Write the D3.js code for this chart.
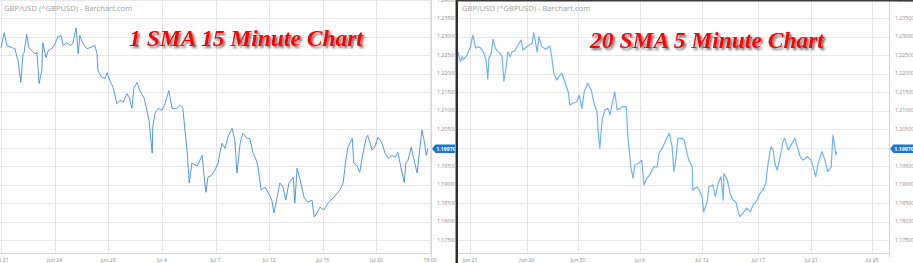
<!DOCTYPE html>
<html>
<head>
<meta charset="utf-8">
<script src="https://cdn.jsdelivr.net/npm/d3@7"></script>
<style>
  html, body { margin: 0; padding: 0; background: #fff; }
  svg { display: block; }
</style>
</head>
<body>
<svg id="chart"></svg>
<script>
// price levels on the y axis
var priceTicks = d3.range(1.175, 1.2401, 0.005);
var lastPrice = 1.19970;

// left panel: 15 minute bars, x in tick steps
var leftTickLabels = ["Jun 21", "Jun 24", "Jun 29", "Jul 4", "Jul 7", "Jul 12", "Jul 15", "Jul 20", "19:00"];
var leftTickPos = [0, 1, 2, 3, 4, 5, 6, 7, 8];
var leftSeries = [
  [0.00,1.2270],[0.06,1.2311],[0.11,1.2276],[0.21,1.2270],[0.26,1.2268],[0.30,1.2243],[0.32,1.2235],[0.37,1.2176],
  [0.41,1.2254],[0.43,1.2257],[0.48,1.2306],[0.52,1.2270],[0.58,1.2262],[0.63,1.2254],[0.67,1.2257],[0.71,1.2173],
  [0.76,1.2208],[0.78,1.2284],[0.84,1.2243],[0.88,1.2262],[0.95,1.2268],[1.01,1.2281],[1.06,1.2300],[1.12,1.2303],
  [1.16,1.2276],[1.23,1.2284],[1.29,1.2276],[1.34,1.2281],[1.40,1.2324],[1.44,1.2254],[1.47,1.2303],[1.53,1.2281],
  [1.60,1.2268],[1.66,1.2270],[1.75,1.2276],[1.79,1.2254],[1.81,1.2208],[1.88,1.2190],[1.94,1.2187],[1.98,1.2203],
  [2.03,1.2181],[2.09,1.2163],[2.16,1.2119],[2.22,1.2128],[2.28,1.2123],[2.35,1.2146],[2.39,1.2136],[2.44,1.2106],
  [2.48,1.2163],[2.54,1.2176],[2.59,1.2154],[2.67,1.2133],[2.72,1.2101],[2.76,1.2074],[2.82,1.1985],[2.83,1.2055],
  [2.87,1.2092],[2.93,1.2106],[3.00,1.2101],[3.06,1.2119],[3.13,1.2154],[3.19,1.2106],[3.28,1.2106],[3.34,1.2114],
  [3.39,1.2109],[3.43,1.2047],[3.47,1.1993],[3.49,1.1947],[3.51,1.1904],[3.56,1.1958],[3.66,1.1950],[3.71,1.1966],
  [3.75,1.1979],[3.79,1.1920],[3.82,1.1879],[3.86,1.1920],[3.93,1.1925],[3.99,1.1939],[4.05,1.1958],[4.08,1.1985],
  [4.12,1.2012],[4.18,1.1998],[4.23,1.2028],[4.31,1.2052],[4.36,1.2020],[4.40,1.1931],[4.46,1.2012],[4.51,1.2039],
  [4.59,1.2025],[4.64,1.2025],[4.70,1.1985],[4.76,1.1966],[4.79,1.1950],[4.85,1.1885],[4.92,1.1893],[4.98,1.1879],
  [5.05,1.1858],[5.09,1.1823],[5.15,1.1866],[5.20,1.1904],[5.26,1.1893],[5.31,1.1858],[5.37,1.1904],[5.45,1.1920],
  [5.48,1.1850],[5.52,1.1944],[5.58,1.1912],[5.65,1.1866],[5.72,1.1852],[5.80,1.1858],[5.84,1.1812],[5.89,1.1823],
  [5.95,1.1839],[6.02,1.1831],[6.10,1.1850],[6.19,1.1863],[6.27,1.1877],[6.32,1.1885],[6.38,1.1904],[6.43,1.1966],
  [6.47,1.2001],[6.55,1.2025],[6.58,1.1958],[6.64,1.1950],[6.69,1.1933],[6.75,1.1985],[6.81,1.2025],[6.84,1.2033],
  [6.92,1.1993],[6.97,1.2001],[7.03,1.2028],[7.10,1.2014],[7.16,1.1985],[7.22,1.1971],[7.29,1.1979],[7.35,1.1974],
  [7.40,1.1987],[7.48,1.1931],[7.52,1.1906],[7.55,1.1958],[7.59,1.1966],[7.65,1.2001],[7.69,1.1974],[7.76,1.1931],
  [7.80,1.1985],[7.85,1.2047],[7.89,1.2020],[7.93,1.1979],[7.96,1.1998]
];

// right panel: 5 minute bars with 20 period average
var rightTickLabels = ["Jun 21", "Jun 26", "Jun 30", "Jul 6", "Jul 12", "Jul 17", "Jul 21", "Jul 25"];
var rightTickPos = [0, 0.99, 1.88, 2.96, 4.04, 5.02, 5.94, 7.0];
var rightSeries = [
  [-0.21,1.2259],[-0.17,1.2232],[-0.14,1.2246],[-0.12,1.2237],[-0.05,1.2250],[-0.03,1.2259],[0.00,1.2269],[0.05,1.2305],
  [0.10,1.2269],[0.14,1.2273],[0.19,1.2269],[0.23,1.2259],[0.28,1.2237],[0.31,1.2185],[0.33,1.2242],[0.37,1.2255],
  [0.40,1.2293],[0.44,1.2269],[0.49,1.2259],[0.52,1.2255],[0.56,1.2246],[0.59,1.2180],[0.63,1.2219],[0.66,1.2259],
  [0.70,1.2246],[0.73,1.2259],[0.78,1.2262],[0.84,1.2278],[0.89,1.2291],[0.92,1.2264],[0.99,1.2273],[1.04,1.2278],
  [1.08,1.2282],[1.11,1.2311],[1.17,1.2259],[1.20,1.2300],[1.25,1.2273],[1.32,1.2266],[1.39,1.2275],[1.43,1.2237],
  [1.46,1.2201],[1.51,1.2183],[1.57,1.2196],[1.60,1.2201],[1.65,1.2178],[1.71,1.2151],[1.74,1.2115],[1.79,1.2120],
  [1.86,1.2124],[1.90,1.2142],[1.95,1.2106],[1.99,1.2151],[2.05,1.2174],[2.11,1.2156],[2.16,1.2120],[2.21,1.2097],
  [2.23,1.2048],[2.26,1.1998],[2.30,1.2075],[2.35,1.2102],[2.40,1.2106],[2.44,1.2088],[2.47,1.2115],[2.52,1.2151],
  [2.56,1.2102],[2.61,1.2106],[2.66,1.2111],[2.72,1.2111],[2.75,1.2029],[2.80,1.1948],[2.84,1.1917],[2.87,1.1953],
  [2.93,1.1957],[2.99,1.1966],[3.03,1.1899],[3.08,1.1917],[3.13,1.1926],[3.20,1.1948],[3.26,1.1948],[3.29,1.1984],
  [3.36,1.2002],[3.41,1.2020],[3.47,1.2039],[3.52,1.2002],[3.55,1.1935],[3.59,1.1975],[3.62,1.2025],[3.69,1.2025],
  [3.73,1.2020],[3.78,1.1984],[3.81,1.1966],[3.87,1.1948],[3.88,1.1885],[3.95,1.1894],[3.99,1.1885],[4.04,1.1867],
  [4.07,1.1826],[4.13,1.1853],[4.16,1.1894],[4.23,1.1899],[4.27,1.1867],[4.32,1.1903],[4.37,1.1921],[4.41,1.1858],
  [4.42,1.1930],[4.48,1.1912],[4.53,1.1876],[4.58,1.1858],[4.63,1.1853],[4.67,1.1826],[4.70,1.1813],[4.75,1.1822],
  [4.82,1.1836],[4.88,1.1826],[4.93,1.1845],[5.00,1.1858],[5.05,1.1876],[5.10,1.1885],[5.15,1.1903],[5.19,1.1957],
  [5.24,1.2002],[5.28,1.1993],[5.31,1.1957],[5.35,1.1939],[5.40,1.1975],[5.45,1.2016],[5.48,1.2025],[5.54,1.1993],
  [5.61,1.2012],[5.66,1.2025],[5.69,1.2007],[5.75,1.1975],[5.80,1.1966],[5.87,1.1975],[5.94,1.1966],[5.99,1.1939],
  [6.02,1.1921],[6.06,1.1957],[6.13,1.1989],[6.18,1.1966],[6.23,1.1935],[6.29,1.1948],[6.32,1.2034],[6.34,1.2016],
  [6.37,1.1980],[6.39,1.1989]
];

var W = 913, H = 263;
var svg = d3.select("#chart").attr("width", W).attr("height", H);
svg.append("rect").attr("width", W).attr("height", H).attr("fill", "#fff");

var defs = svg.append("defs");
var shadow = defs.append("filter").attr("id", "shadow")
  .attr("x", "-10%").attr("y", "-30%").attr("width", "130%").attr("height", "170%");
shadow.append("feDropShadow")
  .attr("dx", 2).attr("dy", 2).attr("stdDeviation", 1.3)
  .attr("flood-color", "#444").attr("flood-opacity", 0.75);

var y = d3.scaleLinear().domain([1.175, 1.235]).range([240, 18.2]);
var fmt = d3.format(".5f");
var plotBottom = 253;

function drawPanel(cfg) {
  var g = svg.append("g");
  var x = cfg.x;

  // horizontal grid
  g.selectAll(".hg").data(priceTicks).enter().append("line")
    .attr("x1", cfg.left).attr("x2", cfg.right)
    .attr("y1", function(d) { return Math.round(y(d)) + 0.5; })
    .attr("y2", function(d) { return Math.round(y(d)) + 0.5; })
    .attr("stroke", "#e9e9e9").attr("stroke-width", 1);

  // vertical grid
  g.selectAll(".vg").data(cfg.tickPos).enter().append("line")
    .attr("x1", function(d) { return Math.round(x(d)) + 0.5; })
    .attr("x2", function(d) { return Math.round(x(d)) + 0.5; })
    .attr("y1", 0).attr("y2", plotBottom)
    .attr("stroke", "#e6e6e6").attr("stroke-width", 1);

  // frame bottom + right
  g.append("line").attr("x1", cfg.left).attr("x2", cfg.right + 0.5)
    .attr("y1", plotBottom + 0.5).attr("y2", plotBottom + 0.5)
    .attr("stroke", "#d6d6d6");
  g.append("line").attr("x1", cfg.right + 0.5).attr("x2", cfg.right + 0.5)
    .attr("y1", 0).attr("y2", plotBottom + 4)
    .attr("stroke", "#d6d6d6");

  // y labels
  g.selectAll(".yl").data(priceTicks).enter().append("text")
    .attr("x", cfg.right + 6).attr("y", function(d) { return y(d) + 1.8; })
    .attr("font-family", "Open Sans, sans-serif").attr("font-size", 5.2)
    .attr("fill", "#8a8a8a")
    .text(function(d) { return fmt(d); });

  // x labels
  g.selectAll(".xl").data(cfg.tickLabels).enter().append("text")
    .attr("x", function(d, i) { return x(cfg.tickPos[i]); })
    .attr("y", 261.5)
    .attr("text-anchor", "middle")
    .attr("font-family", "Open Sans, sans-serif").attr("font-size", 5.2)
    .attr("fill", "#8a8a8a")
    .text(function(d) { return d; });

  // price line
  var clipId = "clip" + cfg.name;
  defs.append("clipPath").attr("id", clipId).append("rect")
    .attr("x", cfg.left).attr("y", 0)
    .attr("width", cfg.right - cfg.left).attr("height", plotBottom);
  var line = d3.line()
    .x(function(d) { return x(d[0]); })
    .y(function(d) { return y(d[1]); });
  g.append("path").datum(cfg.series)
    .attr("clip-path", "url(#" + clipId + ")")
    .attr("d", line)
    .attr("fill", "none")
    .attr("stroke", cfg.color)
    .attr("stroke-width", cfg.lineWidth)
    .attr("stroke-linejoin", "round");

  // last price tag
  var ty = y(lastPrice), tx = cfg.right + 1;
  g.append("path")
    .attr("d", "M" + tx + "," + ty + "L" + (tx + 3.5) + "," + (ty - 4.2) +
      "H" + (tx + 23) + "Q" + (tx + 24.5) + "," + (ty - 4.2) + " " + (tx + 24.5) + "," + (ty - 2.7) +
      "V" + (ty + 2.7) + "Q" + (tx + 24.5) + "," + (ty + 4.2) + " " + (tx + 23) + "," + (ty + 4.2) +
      "H" + (tx + 3.5) + "Z")
    .attr("fill", "#1b76d2");
  g.append("text")
    .attr("x", tx + 14).attr("y", ty + 1.9)
    .attr("text-anchor", "middle")
    .attr("font-family", "Open Sans, sans-serif").attr("font-size", 5.2)
    .attr("font-weight", "bold").attr("fill", "#fff")
    .text(fmt(lastPrice));

  // source title
  g.append("text")
    .attr("x", cfg.left + 4).attr("y", 10.5)
    .attr("font-family", "Open Sans, sans-serif").attr("font-size", 7.6)
    .attr("fill", "#a0a0a0")
    .text("GBP/USD (^GBPUSD) - Barchart.com");

  // big annotation
  g.append("text")
    .attr("x", cfg.titleX).attr("y", cfg.titleY)
    .attr("text-anchor", "middle")
    .attr("font-family", "Liberation Serif, Times New Roman, serif")
    .attr("font-size", 23.5).attr("font-weight", "bold").attr("font-style", "italic")
    .attr("fill", "#ff0000")
    .attr("filter", "url(#shadow)")
    .text(cfg.title);
}

drawPanel({
  name: "L", left: 0, right: 431,
  x: d3.scaleLinear().domain([0, 8]).range([1, 430]),
  tickPos: leftTickPos, tickLabels: leftTickLabels,
  series: leftSeries, color: "#3f8fe0", lineWidth: 0.9,
  title: "1 SMA 15 Minute Chart", titleX: 246, titleY: 46
});

drawPanel({
  name: "R", left: 458, right: 889,
  x: d3.scaleLinear().domain([0, 7]).range([470, 872]),
  tickPos: rightTickPos, tickLabels: rightTickLabels,
  series: rightSeries, color: "#70b4f4", lineWidth: 1.2,
  title: "20 SMA 5 Minute Chart", titleX: 707, titleY: 48
});

// dark frame of the second screenshot
svg.append("rect").attr("x", 455).attr("y", 0).attr("width", 1).attr("height", H).attr("fill", "#9a9a9a");
svg.append("rect").attr("x", 456).attr("y", 0).attr("width", 2).attr("height", H).attr("fill", "#2e2e2e");
svg.append("rect").attr("x", 456).attr("y", 0).attr("width", W - 456).attr("height", 1.5).attr("fill", "#3a3a3a");
</script>
</body>
</html>
